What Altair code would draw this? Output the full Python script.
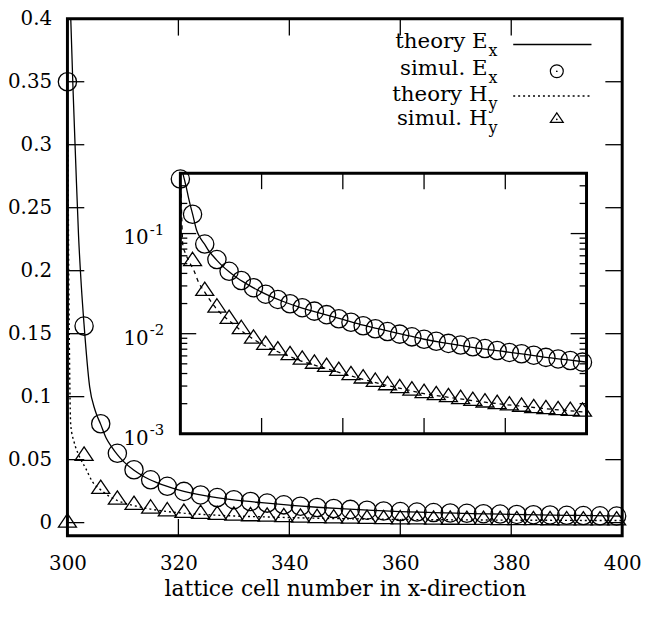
import altair as alt
import pandas as pd

FONT = "DejaVu Serif"

# ---------------- data ----------------
sim_x = [300, 303, 306, 309, 312, 315, 318, 321, 324, 327,
         330, 333, 336, 339, 342, 345, 348, 351, 354, 357,
         360, 363, 366, 369, 372, 375, 378, 381, 384, 387,
         390, 393, 396, 399]
ex_sim = [0.350, 0.156, 0.0785, 0.0550, 0.0420, 0.0340, 0.0288, 0.0248, 0.0220, 0.0199,
          0.0182, 0.0168, 0.0155, 0.0141, 0.0130, 0.0120, 0.0112, 0.0105, 0.0099, 0.0093,
          0.0088, 0.0084, 0.0080, 0.0077, 0.0074, 0.0071, 0.0068, 0.0065, 0.0063, 0.0061,
          0.0058, 0.0056, 0.0054, 0.0052]
hy_sim = [0.0, 0.053, 0.0267, 0.0182, 0.0140, 0.0111, 0.0089, 0.0077, 0.0068, 0.0061,
          0.0055, 0.0050, 0.00465, 0.00424, 0.00384, 0.00356, 0.0033, 0.00305, 0.00285, 0.0027,
          0.00255, 0.00243, 0.00232, 0.00222, 0.00213, 0.00205, 0.00198, 0.00192, 0.00186, 0.0018,
          0.00176, 0.00172, 0.00169, 0.00166]

th_ex_x = [300.6, 301.0, 301.5, 302.0, 302.5, 303, 304, 305, 306, 307, 308, 309, 310,
           312, 314, 316, 318, 320, 325, 330, 335, 340, 345, 350, 355, 360, 365, 370,
           375, 380, 385, 390, 395, 400]
th_ex_y = [0.400, 0.345, 0.285, 0.228, 0.188, 0.157, 0.108, 0.089, 0.078, 0.067, 0.060, 0.054, 0.049,
           0.0415, 0.0360, 0.0320, 0.0287, 0.0260, 0.0212, 0.0180, 0.0158, 0.0139, 0.0122, 0.0109,
           0.0098, 0.0088, 0.0081, 0.0075, 0.0070, 0.0066, 0.0062, 0.0058, 0.0055, 0.0052]

th_hy_x = [300.1, 300.2, 300.35, 300.6, 301.2, 302.1, 303.3, 304.5, 306, 307.5, 309, 310.5,
           312, 315, 318, 321, 324, 327, 330, 335, 340, 345, 350, 355, 360, 365, 370, 375,
           380, 385, 390, 395, 400]
th_hy_y = [0.30, 0.22, 0.14, 0.077, 0.064, 0.053, 0.043, 0.0325, 0.026, 0.021, 0.0175, 0.0152,
           0.0135, 0.0107, 0.0088, 0.0075, 0.0066, 0.0059, 0.0053, 0.0046, 0.0040, 0.0035,
           0.0031, 0.0028, 0.00252, 0.00235, 0.0022, 0.00207, 0.00196, 0.00187, 0.00178,
           0.00171, 0.00164]

x_ticks = [300, 320, 340, 360, 380, 400]
y_ticks = [0, 0.05, 0.1, 0.15, 0.2, 0.25, 0.3, 0.35, 0.4]
inset_x_ticks = [320, 340, 360, 380]
inset_major = [0.001, 0.01, 0.1]
inset_exp = ["-3", "-2", "-1"]
inset_minor = [0.002, 0.003, 0.004, 0.005, 0.006, 0.007, 0.008, 0.009,
               0.02, 0.03, 0.04, 0.05, 0.06, 0.07, 0.08, 0.09,
               0.2, 0.3, 0.4]
legend_labels = ["theory E", "simul. E", "theory H", "simul. H"]
legend_subs = ["x", "x", "y", "y"]

# ---------------- layout ----------------
TOP = 8
W, H = 560, 522
X_DOM = [300, 400]
Y_DOM = [-0.0105, 0.4]
IN_X_RANGE = [114, 524]
IN_Y_RANGE = [435 - 8 - TOP, 172 - 8 - TOP]
IN_Y_DOM = [0.001, 0.4]
TRI = "M0,-0.99L1,0.49L-1,0.49Z"

sim = pd.DataFrame({"x": sim_x, "ex": ex_sim, "hy": hy_sim})
th_ex = pd.DataFrame({"x": th_ex_x, "y": th_ex_y})
th_hy = pd.DataFrame({"x": th_hy_x, "y": th_hy_y})


def xs():
    return alt.Scale(domain=X_DOM, nice=False, zero=False)


def ys():
    return alt.Scale(domain=Y_DOM, nice=False, zero=False)


def xs_in():
    return alt.Scale(domain=X_DOM, range=IN_X_RANGE, nice=False, zero=False)


def ys_in():
    return alt.Scale(type="log", domain=IN_Y_DOM, range=IN_Y_RANGE, nice=False)


x_axis = alt.Axis(values=x_ticks, ticks=False, domain=False, grid=False,
                  labelFont=FONT, labelFontSize=20, labelColor="black",
                  labelPadding=18, labelFlush=False, labelOverlap=False,
                  title="lattice cell number in x-direction", titleFont=FONT,
                  titleFontSize=22, titleFontWeight="normal", titleColor="black",
                  titleY=60, titleBaseline="alphabetic")
y_axis = alt.Axis(values=y_ticks, format="~g", ticks=False, domain=False, grid=False,
                  labelFont=FONT, labelFontSize=20, labelColor="black",
                  labelPadding=16, labelFlush=False, labelOverlap=False, title=None)

# ---------------- main plot ----------------
line_ex = alt.Chart(th_ex).mark_line(color="black", strokeWidth=1.3, interpolate="monotone").encode(
    x=alt.X("x:Q", scale=xs(), axis=x_axis), y=alt.Y("y:Q", scale=ys(), axis=y_axis))
line_hy = alt.Chart(th_hy).mark_line(color="black", strokeWidth=1.4, strokeDash=[2, 3],
                                     interpolate="monotone").encode(
    x=alt.X("x:Q", scale=xs(), axis=None), y=alt.Y("y:Q", scale=ys(), axis=None))
pts_ex = alt.Chart(sim).mark_point(shape="circle", size=340, filled=False, color="black",
                                   strokeWidth=1.3, opacity=1).encode(
    x=alt.X("x:Q", scale=xs(), axis=None), y=alt.Y("ex:Q", scale=ys(), axis=None))
pts_hy = alt.Chart(sim).mark_point(shape=TRI, size=330, filled=False, color="black",
                                   strokeWidth=1.3, opacity=1).encode(
    x=alt.X("x:Q", scale=xs(), axis=None), y=alt.Y("hy:Q", scale=ys(), axis=None))

yt = pd.DataFrame({"v": y_ticks})
xt = pd.DataFrame({"v": x_ticks})
TL = 17
main_ticks = [
    alt.Chart(yt).mark_rule(color="black", strokeWidth=1.3).encode(
        y=alt.Y("v:Q", scale=ys(), axis=None), x=alt.value(0), x2=alt.value(TL)),
    alt.Chart(yt).mark_rule(color="black", strokeWidth=1.3).encode(
        y=alt.Y("v:Q", scale=ys(), axis=None), x=alt.value(W - TL), x2=alt.value(W)),
    alt.Chart(xt).mark_rule(color="black", strokeWidth=1.3).encode(
        x=alt.X("v:Q", scale=xs(), axis=None), y=alt.value(H - TL), y2=alt.value(H)),
    alt.Chart(xt).mark_rule(color="black", strokeWidth=1.3).encode(
        x=alt.X("v:Q", scale=xs(), axis=None), y=alt.value(0), y2=alt.value(TL)),
]

# legend (manual)
one = pd.DataFrame({"a": [0]})
OFF = 8 + TOP
row_base = [46 - OFF, 73 - OFF, 99 - OFF, 123 - OFF]
row_sym = [42 - OFF, 69 - OFF, 94 - OFF, 117.5 - OFF]
legend_layers = []
for lab, sub, yb in zip(legend_labels, legend_subs, row_base):
    legend_layers.append(alt.Chart(one).mark_text(text=lab, align="right", baseline="alphabetic",
                                                  font=FONT, fontSize=21.5, color="black").encode(
        x=alt.value(424), y=alt.value(yb)))
    legend_layers.append(alt.Chart(one).mark_text(text=sub, align="left", baseline="alphabetic",
                                                  font=FONT, fontSize=16, color="black").encode(
        x=alt.value(425), y=alt.value(yb + 8)))
legend_layers.append(alt.Chart(one).mark_rule(color="black", strokeWidth=1.3).encode(
    x=alt.value(450), x2=alt.value(529), y=alt.value(row_sym[0])))
legend_layers.append(alt.Chart(one).mark_point(shape="circle", size=170, filled=False, color="black",
                                               strokeWidth=1.2, opacity=1).encode(
    x=alt.value(494), y=alt.value(row_sym[1])))
legend_layers.append(alt.Chart(one).mark_rule(color="black", strokeWidth=1.4, strokeDash=[2, 3]).encode(
    x=alt.value(450), x2=alt.value(529), y=alt.value(row_sym[2])))
legend_layers.append(alt.Chart(one).mark_point(shape=TRI, size=170, filled=False, color="black",
                                               strokeWidth=1.2, opacity=1).encode(
    x=alt.value(494), y=alt.value(row_sym[3])))
for ry in (row_sym[1], row_sym[3]):
    legend_layers.append(alt.Chart(one).mark_point(shape="circle", size=3, filled=True, color="black",
                                                   opacity=1).encode(
        x=alt.value(494), y=alt.value(ry)))

# ---------------- inset ----------------
frame = pd.DataFrame({"x0": [X_DOM[0]], "x1": [X_DOM[1]], "y0": [IN_Y_DOM[0]], "y1": [IN_Y_DOM[1]]})
in_frame = alt.Chart(frame).mark_rect(fill="white", stroke="black", strokeWidth=3).encode(
    x=alt.X("x0:Q", scale=xs_in(), axis=None), x2="x1",
    y=alt.Y("y0:Q", scale=ys_in(), axis=None), y2="y1")

in_line_ex = alt.Chart(th_ex).mark_line(color="black", strokeWidth=1.3, interpolate="monotone").encode(
    x=alt.X("x:Q", scale=xs_in(), axis=None), y=alt.Y("y:Q", scale=ys_in(), axis=None))
in_line_hy = alt.Chart(th_hy).mark_line(color="black", strokeWidth=1.3, strokeDash=[4, 4],
                                        interpolate="monotone").encode(
    x=alt.X("x:Q", scale=xs_in(), axis=None), y=alt.Y("y:Q", scale=ys_in(), axis=None))
in_pts_ex = alt.Chart(sim).mark_point(shape="circle", size=340, filled=False, color="black",
                                      strokeWidth=1.3, opacity=1).encode(
    x=alt.X("x:Q", scale=xs_in(), axis=None), y=alt.Y("ex:Q", scale=ys_in(), axis=None))
in_pts_hy = alt.Chart(sim).transform_filter("datum.hy > 0").mark_point(
    shape=TRI, size=330, filled=False, color="black", strokeWidth=1.3, opacity=1).encode(
    x=alt.X("x:Q", scale=xs_in(), axis=None), y=alt.Y("hy:Q", scale=ys_in(), axis=None))

ixt = pd.DataFrame({"v": inset_x_ticks})
imaj = pd.DataFrame({"v": inset_major, "e": inset_exp})
imin = pd.DataFrame({"v": inset_minor})
L0, R0 = IN_X_RANGE
B0, T0 = IN_Y_RANGE
ML, mL = 16, 7
in_ticks = [
    alt.Chart(ixt).mark_rule(color="black", strokeWidth=1.3).encode(
        x=alt.X("v:Q", scale=xs_in(), axis=None), y=alt.value(B0 - ML), y2=alt.value(B0)),
    alt.Chart(ixt).mark_rule(color="black", strokeWidth=1.3).encode(
        x=alt.X("v:Q", scale=xs_in(), axis=None), y=alt.value(T0), y2=alt.value(T0 + ML)),
    alt.Chart(imaj).mark_rule(color="black", strokeWidth=1.3).encode(
        y=alt.Y("v:Q", scale=ys_in(), axis=None), x=alt.value(L0), x2=alt.value(L0 + ML)),
    alt.Chart(imaj).mark_rule(color="black", strokeWidth=1.3).encode(
        y=alt.Y("v:Q", scale=ys_in(), axis=None), x=alt.value(R0 - ML), x2=alt.value(R0)),
    alt.Chart(imin).mark_rule(color="black", strokeWidth=1.3).encode(
        y=alt.Y("v:Q", scale=ys_in(), axis=None), x=alt.value(L0), x2=alt.value(L0 + mL)),
    alt.Chart(imin).mark_rule(color="black", strokeWidth=1.3).encode(
        y=alt.Y("v:Q", scale=ys_in(), axis=None), x=alt.value(R0 - mL), x2=alt.value(R0)),
]
in_lab10 = alt.Chart(imaj).mark_text(text="10", align="right", baseline="alphabetic", dy=11,
                                     font=FONT, fontSize=20, color="black").encode(
    y=alt.Y("v:Q", scale=ys_in(), axis=None), x=alt.value(L0 - 32))
in_labexp = alt.Chart(imaj).mark_text(align="left", baseline="alphabetic", dy=1,
                                      font=FONT, fontSize=15, color="black").encode(
    y=alt.Y("v:Q", scale=ys_in(), axis=None), x=alt.value(L0 - 31), text="e:N")

layers = ([line_ex, line_hy, pts_ex, pts_hy] + main_ticks + legend_layers +
          [in_frame, in_line_ex, in_line_hy, in_pts_ex, in_pts_hy] + in_ticks +
          [in_lab10, in_labexp])

chart = alt.layer(*layers).resolve_scale(x="independent", y="independent").properties(
    width=W, height=H,
    background="white",
    autosize=alt.AutoSizeParams(type="none"),
    padding={"left": 60, "top": TOP, "right": 20, "bottom": 72},
).configure_view(stroke="black", strokeWidth=3).configure_axis(
    labelFont=FONT, titleFont=FONT, labelFontSize=20, titleFontSize=22,
    labelColor="black", titleColor="black", titleFontWeight="normal"
).configure_text(font=FONT)

chart.save("out.html", embed_options={"renderer": "svg", "actions": False})
